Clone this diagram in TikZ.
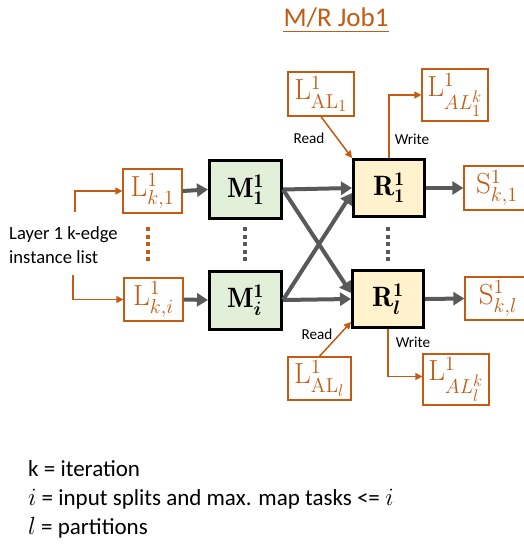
\documentclass[tikz,border=0pt]{standalone}
\usepackage{fontspec}
\usepackage{amsmath}
\usepackage{bm}
\usepackage{graphicx}
\newfontfamily\carlito{Carlito}
\usetikzlibrary{arrows.meta}
\definecolor{accent}{RGB}{197,90,17}
\definecolor{flow}{RGB}{89,89,89}
\definecolor{mapfill}{RGB}{226,240,217}
\definecolor{redfill}{RGB}{255,242,204}
% enlarged math labels for the boxes
\newcommand{\tasklab}[1]{\scalebox{1.35}{$#1$}}
\newcommand{\datalab}[1]{\scalebox{1.4}{$#1$}}

\begin{document}
\begin{tikzpicture}[x=1pt,y=-1pt,
  taskbox/.style={draw=black, line width=3pt, inner sep=0pt, font=\huge},
  mapbox/.style={taskbox, fill=mapfill, minimum width=72pt, minimum height=58pt},
  redbox/.style={taskbox, fill=redfill, minimum width=71pt, minimum height=57pt},
  databox/.style={draw=accent, line width=1.3pt, text=accent, inner sep=0pt, font=\huge},
  flowarrow/.style={draw=flow, line width=4pt, -{Triangle[length=11pt,width=13pt]}},
  dataarrow/.style={draw=accent, line width=1.5pt, -{Triangle[length=7pt,width=7pt]}},
  dotcol/.style={line width=4pt, dash pattern=on 4pt off 3.5pt},
  small/.style={font=\carlito\fontsize{15.2}{18}\selectfont, inner sep=0pt},
]
\useasboundingbox (0,0) rectangle (524,546);
\clip (0,0) rectangle (524,546);
\fill[white] (0,0) rectangle (524,546);

% title
\node[inner sep=0pt, text=accent, font=\carlito\fontsize{27}{32}\selectfont, anchor=base] (title) at (336,27) {M/R Job1};
\draw[accent, line width=1.6pt] ([yshift=-4.5pt]title.base west) -- ([yshift=-4.5pt]title.base east);

% map and reduce tasks
\node[mapbox] (M1) at (245.5,189.5) {\tasklab{\mathbf{M}^{\mathbf{1}}_{\mathbf{1}}}};
\node[mapbox] (Mi) at (245.5,300) {\tasklab{\mathbf{M}^{\mathbf{1}}_{\bm{i}}}};
\node[redbox] (R1) at (389,188) {\tasklab{\mathbf{R}^{\mathbf{1}}_{\mathbf{1}}}};
\node[redbox] (Rl) at (388,299) {\tasklab{\mathbf{R}^{\mathbf{1}}_{\bm{l}}}};

% input splits
\node[databox, minimum width=59pt, minimum height=44pt] (Lk1) at (152.5,191) {\datalab{\mathrm{L}^1_{k,1}}};
\node[databox, minimum width=59pt, minimum height=43pt] (Lki) at (153.5,299.5) {\datalab{\mathrm{L}^1_{k,i}}};

% outputs
\node[databox, minimum width=66pt, minimum height=44pt] (Sk1) at (497,188) {\datalab{\mathrm{S}^1_{k,1}}};
\node[databox, minimum width=66pt, minimum height=43pt] (Skl) at (498,298.5) {\datalab{\mathrm{S}^1_{k,l}}};

% adjacency lists read and written by the reducers
\node[databox, minimum width=66pt, minimum height=44pt] (AL1) at (321,94) {\datalab{\mathrm{L}^1_{\mathrm{AL}_1}}};
\node[databox, minimum width=66pt, minimum height=52pt] (ALk1) at (455,95) {\datalab{\mathrm{L}^1_{AL_1^k}}};
\node[databox, minimum width=63pt, minimum height=43pt] (ALl) at (319.5,378.5) {\datalab{\mathrm{L}^1_{\mathrm{AL}_l}}};
\node[databox, minimum width=66pt, minimum height=51pt] (ALkl) at (456,379.5) {\datalab{\mathrm{L}^1_{AL_l^k}}};

% input label
\node[anchor=west, align=left, inner sep=0pt, font=\carlito\fontsize{18.6}{24}\selectfont] (layer) at (9,245) {Layer 1 k-edge\\instance list};
\coordinate (brtop) at (75,212);
\coordinate (brbot) at (73,275);
\draw[dataarrow] (brtop) |- (Lk1.west);
\draw[dataarrow] (brbot) |- (Lki.west);

% ellipsis dots
\coordinate (od1) at (148,227); \coordinate (od2) at (148,263);
\coordinate (md1) at (245,227); \coordinate (md2) at (245,263);
\coordinate (rd1) at (388,227); \coordinate (rd2) at (388,263);
\draw[dotcol, accent] (od1) -- (od2);
\draw[dotcol, flow] (md1) -- (md2);
\draw[dotcol, flow] (rd1) -- (rd2);

% data flow
\draw[flowarrow] (Lk1.east) -- (M1.west);
\draw[flowarrow] (Lki.east) -- (Mi.west);
\draw[flowarrow] (M1.east) -- (R1.west);
\draw[flowarrow] (Mi.east) -- (Rl.west);
\draw[flowarrow] (M1.east) -- ([yshift=6pt]Rl.west);
\draw[flowarrow] (Mi.east) -- ([yshift=-5pt]R1.west);
\draw[flowarrow] (R1.east) -- (Sk1.west);
\draw[flowarrow] (Rl.east) -- (Skl.west);

% reads and writes
\draw[dataarrow] (AL1.south) -- (R1.north west);
\draw[dataarrow] (R1.north) |- (ALk1.west);
\draw[dataarrow] (ALl.north) -- ([yshift=7pt]Rl.south west);
\draw[dataarrow] (Rl.south) |- ([yshift=3pt]ALkl.west);
\node[small] (read1) at (309,138) {Read};
\node[small] (write1) at (412,139) {Write};
\node[small] (read2) at (317,334) {Read};
\node[small] (write2) at (413,342) {Write};

% legend
\node[anchor=west, inner sep=0pt, font=\carlito\fontsize{23}{28}\selectfont] (leg1) at (28,469) {k = iteration};
\node[anchor=west, inner sep=0pt, font=\carlito\fontsize{23}{28}\selectfont] (leg2) at (28,499) {$i$ = input splits and max. map tasks <= $i$};
\node[anchor=west, inner sep=0pt, font=\carlito\fontsize{23}{28}\selectfont] (leg3) at (28,528) {$l$ = partitions};
\end{tikzpicture}
\end{document}
